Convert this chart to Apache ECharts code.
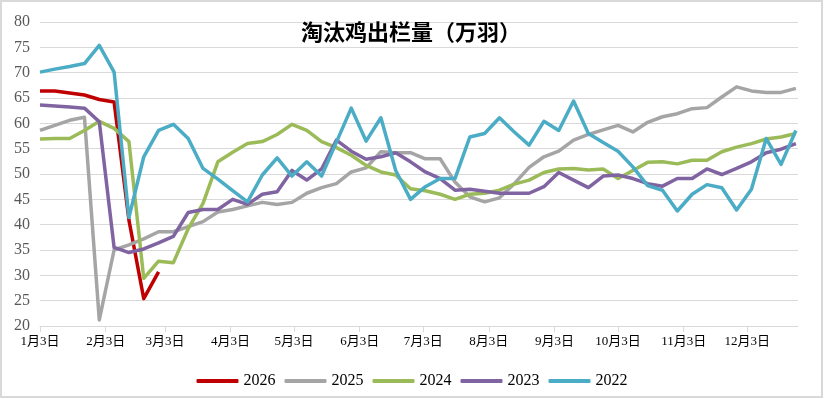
<!DOCTYPE html>
<html>
<head>
<meta charset="utf-8">
<script src="https://cdn.jsdelivr.net/npm/echarts@6/dist/echarts.min.js"></script>
<style>
  html, body { margin: 0; padding: 0; background: #fff; }
  #main { width: 824px; height: 399px; }
</style>
</head>
<body>
<div id="main"></div>
<script>
// x axis: days counted from 1月3日, one point per week
var monthLabels = ['1月3日', '2月3日', '3月3日', '4月3日', '5月3日', '6月3日', '7月3日', '8月3日', '9月3日', '10月3日', '11月3日', '12月3日'];
var monthDays = [0, 31, 59, 90, 120, 151, 181, 212, 243, 273, 304, 334];
var weekDays = 7;

var years = ['2026', '2025', '2024', '2023', '2022'];
var colors = ['#c00000', '#a5a5a5', '#9bbb59', '#8064a2', '#4bacc6'];

var v2026 = [66.4, 66.4, 66.0, 65.6, 64.7, 64.2, 40.9, 25.4, 30.7];
var v2025 = [58.6, 59.6, 60.6, 61.2, 21.2, 35.0, 36.0, 37.2, 38.6, 38.6, 39.6, 40.6, 42.5, 43.0,
  43.7, 44.4, 44.0, 44.4, 46.2, 47.3, 48.1, 50.4, 51.2, 54.4, 54.2, 54.2, 53.0, 53.0, 48.4, 45.5,
  44.5, 45.3, 48.1, 51.3, 53.4, 54.5, 56.7, 57.8, 58.7, 59.6, 58.3, 60.2, 61.3, 61.9, 62.9, 63.1,
  65.2, 67.2, 66.4, 66.1, 66.1, 66.9];
var v2024 = [56.9, 57.0, 57.0, 58.6, 60.4, 59.0, 56.4, 29.4, 32.8, 32.5, 39.2, 44.2, 52.4, 54.3,
  56.0, 56.4, 57.8, 59.8, 58.6, 56.4, 55.2, 53.7, 51.7, 50.4, 49.8, 47.1, 46.7, 46.0, 45.0, 46.0,
  46.2, 46.8, 48.0, 48.8, 50.3, 51.0, 51.1, 50.8, 51.0, 49.1, 50.7, 52.3, 52.4, 52.0, 52.7, 52.7,
  54.4, 55.3, 56.0, 56.9, 57.3, 58.0];
var v2023 = [63.6, 63.4, 63.2, 63.0, 60.3, 35.5, 34.5, 35.2, 36.4, 37.7, 42.4, 43.0, 43.0, 45.0,
  44.0, 46.0, 46.5, 50.7, 48.8, 51.0, 56.7, 54.5, 52.9, 53.4, 54.2, 52.4, 50.4, 49.1, 46.8, 47.0,
  46.6, 46.2, 46.2, 46.2, 47.5, 50.3, 48.8, 47.3, 49.6, 49.8, 49.1, 48.1, 47.6, 49.1, 49.1, 51.0,
  49.9, 51.1, 52.4, 54.2, 54.9, 56.0];
var v2022 = [70.1, 70.7, 71.2, 71.8, 75.4, 70.1, 41.4, 53.4, 58.6, 59.8, 57.0, 51.1, 49.0, 46.7,
  44.5, 49.8, 53.2, 49.6, 52.4, 49.6, 56.3, 63.0, 56.5, 61.1, 50.7, 45.0, 47.5, 49.1, 49.1, 57.3,
  58.0, 61.1, 58.3, 55.7, 60.4, 58.6, 64.4, 58.0, 56.2, 54.5, 51.4, 47.7, 46.8, 42.7, 46.0, 47.9,
  47.3, 42.9, 47.0, 57.0, 51.9, 58.6];

var allValues = [v2026, v2025, v2024, v2023, v2022];

var myChart = echarts.init(document.getElementById('main'));

var series = years.map(function (name, s) {
  return {
    name: name,
    type: 'line',
    symbol: 'none',
    color: colors[s],
    lineStyle: { width: 3.5, color: colors[s], join: 'round' },
    data: allValues[s].map(function (v, i) { return [i * weekDays, v]; })
  };
});

var option = {
  animation: false,
  backgroundColor: '#fff',
  title: {
    text: '淘汰鸡出栏量（万羽）',
    left: 406,
    textAlign: 'center',
    top: 16,
    textStyle: {
      fontFamily: 'Noto Sans CJK SC',
      fontWeight: 'bold',
      fontSize: 22,
      color: '#000'
    }
  },
  graphic: [{
    type: 'rect',
    shape: { x: 1, y: 1, width: 821, height: 396 },
    style: { fill: 'none', stroke: '#d9d9d9', lineWidth: 2 },
    silent: true
  }],
  legend: {
    data: years,
    left: 'center',
    top: 368,
    icon: 'roundRect',
    itemWidth: 42,
    itemHeight: 4,
    itemGap: 9,
    textStyle: {
      fontFamily: 'Liberation Serif',
      fontSize: 16,
      color: '#000'
    }
  },
  grid: {
    left: 40,
    right: 26,
    top: 22,
    bottom: 73
  },
  xAxis: {
    type: 'value',
    min: 0,
    max: 358,
    axisLine: { show: true, lineStyle: { color: '#d9d9d9', width: 1 } },
    axisTick: {
      show: true,
      length: 6,
      customValues: monthDays,
      lineStyle: { color: '#d9d9d9' }
    },
    splitLine: { show: false },
    axisLabel: {
      customValues: monthDays,
      margin: 9,
      fontFamily: 'Liberation Serif, Noto Sans CJK SC',
      fontSize: 13,
      color: '#000',
      formatter: function (val) {
        var idx = monthDays.indexOf(val);
        return idx >= 0 ? monthLabels[idx] : '';
      }
    }
  },
  yAxis: {
    type: 'value',
    min: 20,
    max: 80,
    interval: 5,
    axisLine: { show: false },
    axisTick: { show: false },
    splitLine: { lineStyle: { color: '#d9d9d9', width: 1 } },
    axisLabel: {
      margin: 10,
      fontFamily: 'Liberation Serif',
      fontSize: 16,
      color: '#595959'
    }
  },
  series: series
};

myChart.setOption(option);
</script>
</body>
</html>
